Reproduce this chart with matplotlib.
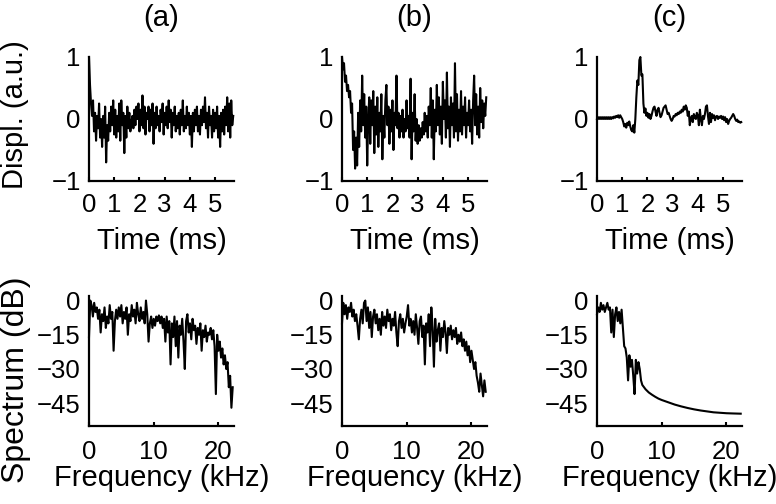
import numpy as np
import matplotlib
matplotlib.use("Agg")
import matplotlib.pyplot as plt

plt.rcParams['font.family'] = ['Liberation Sans', 'DejaVu Sans']

# displacement traces, sampled every 0.04 ms
dt = 0.04
disp_a = [1.0, 0.55, 0.25, 0.05, 0.3, -0.2, 0.1, -0.35, 0.05, -0.15,
          0.25, -0.3, 0.0, -0.45, 0.05, -0.3, 0.2, -0.7, -0.1, -0.35,
          0.1, -0.2, 0.2, -0.1, 0.3, -0.25, 0.15, -0.3, 0.05, -0.2,
          0.25, -0.35, 0.3, -0.1, 0.1, -0.55, 0.05, -0.3, 0.2, -0.15,
          0.1, -0.2, -0.05, 0.05, -0.15, 0.15, -0.1, 0.2, 0.0, 0.25,
          -0.2, 0.15, -0.1, 0.38, -0.15, 0.2, -0.25, 0.1, 0.0, 0.2,
          -0.2, 0.15, -0.1, 0.25, -0.4, 0.1, -0.15, 0.2, -0.1, 0.05,
          -0.2, 0.15, -0.05, 0.25, -0.25, 0.1, -0.1, 0.2, -0.15, 0.3,
          -0.05, 0.15, -0.3, 0.1, -0.1, 0.2, -0.2, 0.05, -0.15, 0.1,
          -0.25, 0.15, -0.1, 0.3, -0.2, 0.05, -0.15, 0.2, -0.1, 0.1,
          -0.25, 0.05, -0.45, 0.1, -0.2, 0.15, -0.1, 0.2, -0.2, 0.05,
          -0.25, 0.15, -0.1, 0.2, -0.05, 0.35, -0.15, 0.1, -0.3, 0.2,
          -0.1, 0.05, -0.3, 0.15, -0.2, 0.1, -0.15, 0.2, -0.3, 0.05,
          -0.45, 0.1, -0.2, 0.15, -0.25, 0.2, -0.1, 0.35, -0.2, 0.25,
          -0.3, 0.3, -0.1, 0.05]
disp_b = [1.0, 0.8, 0.9, 0.6, 0.7, 0.45, 0.55, 0.35, 0.45, 0.1,
          0.25, -0.5, -0.2, -0.8, -0.3, -0.75, 0.1, -0.45, 0.3, -0.2,
          0.7, -0.1, 0.4, -0.3, 0.2, -0.75, 0.0, 0.35, -0.4, 0.3,
          -0.1, 0.45, -0.55, 0.2, -0.25, 0.35, -0.45, 0.1, -0.2, 0.4,
          -0.65, 0.05, -0.3, 0.3, 0.55, -0.1, 0.2, -0.4, 0.15, -0.2,
          0.3, -0.5, 0.1, -0.1, 0.7, -0.15, 0.1, -0.3, 0.05, -0.2,
          0.15, -0.3, 0.0, -0.2, 0.3, -0.15, 0.05, -0.3, 0.65, -0.65,
          0.1, -0.2, 0.4, -0.35, 0.0, -0.4, -0.1, -0.35, -0.15, -0.3,
          -0.05, -0.25, 0.1, -0.2, 0.05, -0.3, 0.2, -0.1, 0.5, -0.3,
          0.3, -0.65, 0.15, -0.2, 0.55, -0.1, 0.35, -0.25, 0.2, -0.4,
          0.6, 0.0, 0.3, -0.3, 0.75, -0.15, 0.2, -0.45, 0.35, -0.1,
          0.25, -0.3, 0.9, -0.2, 0.4, -0.35, 0.15, -0.2, 0.45, -0.25,
          0.2, -0.1, 0.35, -0.3, 0.1, -0.1, 0.3, -0.2, 0.15, -0.4,
          0.3, 0.7, -0.1, 0.4, -0.25, 0.2, -0.3, 0.5, -0.05, 0.3,
          -0.15, 0.25, 0.05, 0.35]
disp_c = [0.0, 0.03, 0.0, 0.03, 0.0, 0.03, 0.0, 0.03, 0.0, 0.03,
          0.0, 0.03, 0.0, 0.03, 0.0, 0.03, 0.01, 0.04, 0.02, 0.05,
          0.03, 0.06, 0.02, 0.06, 0.03, 0.0, -0.05, -0.12, -0.08, -0.14,
          -0.06, -0.1, -0.04, -0.12, -0.18, -0.2, -0.1, -0.22, 0.0, 0.35,
          0.62, 0.55, 0.95, 1.0, 0.7, 0.72, 0.25, 0.1, 0.17, 0.05,
          0.1, 0.02, 0.08, 0.0, 0.05, 0.12, 0.18, 0.2, 0.12, 0.05,
          0.15, 0.18, 0.1, 0.03, 0.06, 0.12, 0.18, 0.2, 0.22, 0.15,
          0.08, 0.1, 0.05, 0.0, -0.03, 0.0, 0.05, 0.04, 0.08, 0.06,
          0.1, 0.08, 0.12, 0.1, 0.15, 0.12, 0.2, 0.15, 0.22, 0.18,
          0.05, 0.12, -0.1, 0.0, 0.05, -0.05, 0.08, 0.03, 0.0, 0.1,
          0.05, -0.1, 0.15, 0.0, -0.1, 0.05, 0.0, 0.08, 0.2, 0.22,
          0.05, -0.08, 0.1, -0.05, 0.08, 0.02, 0.06, -0.02, 0.04, 0.05,
          0.0, 0.04, 0.02, 0.05, 0.0, 0.04, -0.02, 0.03, -0.05, 0.0,
          -0.08, -0.03, 0.0, 0.02, 0.05, 0.08, 0.05, 0.0, -0.03, -0.01,
          -0.05, -0.04, -0.06, -0.05]

# spectra, 0.2 kHz bins
df = 0.2
spec_a = [-16, 0, -2, -7, -1, -5, -3, -8, -4, -14,
          -6, -9, -3, -12, -7, -10, -2, -8, -5, -22,
          -9, -4, -8, -3, -7, -2, -10, -5, -8, -3,
          -15, -6, -9, -2, -7, -4, -10, -1, -6, -9,
          -3, -8, -5, -10, 0, -6, -18, -10, -7, -12,
          -8, -11, -7, -9, -6.5, -10, -7, -12, -8, -18,
          -7, -14, -9, -28, -10, -16, -7, -20, -9, -25,
          -11, -15, -8, -18, -30, -9, -6, -14, -10, -17,
          -8, -13, -11, -19, -12, -15, -10, -22, -13, -16,
          -11, -18, -14, -15, -12, -17, -13, -20, -41, -15,
          -22, -18, -25, -21, -28, -24, -30, -27, -38, -33,
          -47, -38]
spec_b = [-10, -1, -6, -2, -8, -3, -5, -1, -7, -4,
          -9, -6, -11, -17, -8, -4, -10, -1, 0, -9,
          -3, -12, -5, -16, -7, -4, -10, -6, -13, -8,
          -15, -5, -11, -7, -12, -4, -9, -6, -13, -8,
          -11, -5, -14, -20, -9, -6, -12, -8, -14, -10,
          -7, -2, -11, -8, -14, -9, -15, -6, -12, -19,
          -9, -7, -16, -11, -28, -10, -14, -6, -20, -3,
          -12, -29, -8, -18, -13, -10, -22, -12, -16, -9,
          -14, -23, -12, -15, -11, -17, -13, -16, -12, -19,
          -15, -18, -14, -20, -17, -22, -18, -24, -20, -27,
          -22, -26, -30, -27, -33, -36, -40, -32, -37, -42,
          -35, -40]
freq_c = [0.0, 0.2, 0.4, 0.6, 0.8, 1.0, 1.2, 1.4, 1.6, 1.8,
          2.0, 2.2, 2.4, 2.6, 2.8, 3.0, 3.2, 3.4, 3.6, 3.8,
          4.0, 4.2, 4.4, 4.6, 4.8, 5.0, 5.2, 5.4, 5.6, 5.8,
          6.0, 6.2, 6.4, 6.6, 6.8, 7.0, 7.5, 8.0, 8.5, 9.0,
          9.5, 10, 11, 12, 13, 14, 15, 16, 17, 18,
          19, 20, 21, 22.2]
spec_c = [-6, -3, -5, -1, -4, -2, -5, -3, -1, -4,
          -3, -14, -4, -16, -6, -3, -9, -5, -10, -4,
          -12, -20, -21, -25, -35, -24, -29, -26, -33, -41,
          -26, -32, -27, -30, -35, -37, -38.9, -40.3, -41.3, -42.2,
          -43.0, -43.6, -44.6, -45.6, -46.4, -47.1, -47.7, -48.2, -48.6, -49.0,
          -49.2, -49.4, -49.5, -49.6]

titles = ['(a)', '(b)', '(c)']
disps = [disp_a, disp_b, disp_c]
freqs = [np.arange(len(spec_a)) * df, np.arange(len(spec_b)) * df, np.array(freq_c)]
specs = [spec_a, spec_b, spec_c]

W, H = 776, 504
fig = plt.figure(figsize=(W / 100, H / 100), dpi=100)
lefts = [89, 342, 597]
aw = 145


def style(ax):
    for s in ['top', 'right']:
        ax.spines[s].set_visible(False)
    for s in ['left', 'bottom']:
        ax.spines[s].set_linewidth(1.6)
    ax.tick_params(axis='x', direction='in', length=3, width=1.5, labelsize=18.5, pad=9)
    ax.tick_params(axis='y', direction='in', length=0, labelsize=18.5, pad=6)


for k in range(3):
    # top row: displacement
    ax = fig.add_axes([lefts[k] / W, 1 - 181 / H, aw / W, 124 / H])
    t = np.arange(len(disps[k])) * dt
    ax.plot(t, disps[k], color='black', lw=1.5, clip_on=False)
    ax.set_xlim(0, 5.75)
    ax.set_ylim(-1, 1)
    ax.set_xticks([0, 1, 2, 3, 4, 5])
    ax.set_yticks([-1, 0, 1])
    ax.set_yticklabels(['\u22121', '0', '1'])
    style(ax)
    ax.set_title(titles[k], fontsize=21, pad=22)
    ax.set_xlabel('Time (ms)', fontsize=21, labelpad=7)

    # bottom row: spectrum
    ax2 = fig.add_axes([lefts[k] / W, 1 - 426 / H, aw / W, 130 / H])
    ax2.plot(freqs[k], specs[k], color='black', lw=1.5, clip_on=False)
    ax2.set_xlim(0, 22.4)
    ax2.set_ylim(-55, 2)
    ax2.set_xticks([0, 10, 20])
    ax2.set_yticks([-45, -30, -15, 0])
    ax2.set_yticklabels(['\u221245', '\u221230', '\u221215', '0'])
    style(ax2)
    ax2.tick_params(axis='x', pad=10)
    ax2.set_xlabel('Frequency (kHz)', fontsize=21, labelpad=0)

fig.text(15 / W, 1 - 115 / H, 'Displ. (a.u.)', rotation=90, ha='center', va='center', fontsize=21)
fig.text(16 / W, 1 - 380 / H, 'Spectrum (dB)', rotation=90, ha='center', va='center', fontsize=23)

fig.savefig('out.png', dpi=100)
